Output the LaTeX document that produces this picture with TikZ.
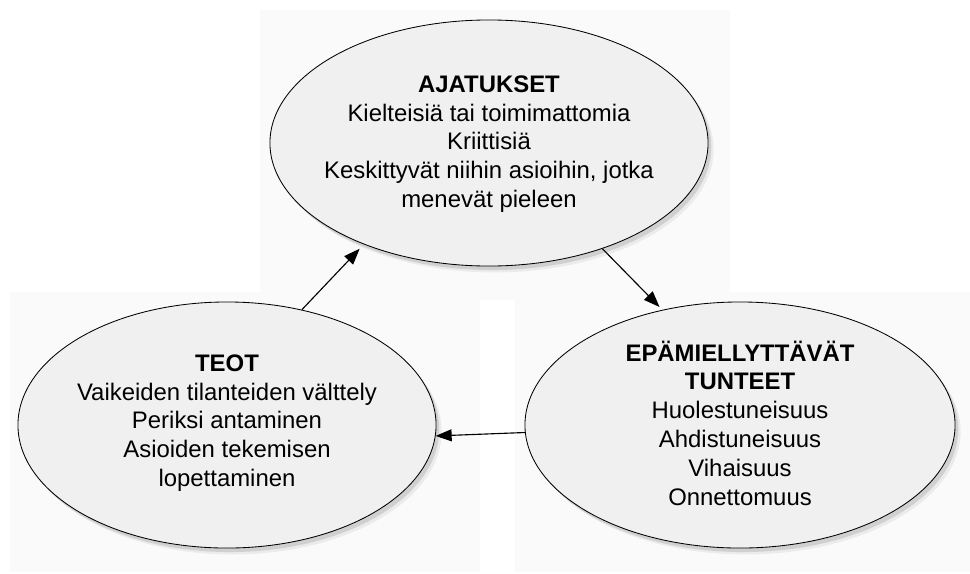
\documentclass[tikz,border=0pt]{standalone}
\usepackage{fontspec}
\setmainfont{Liberation Sans}
\usetikzlibrary{shapes.geometric, shadows, arrows.meta}

\begin{document}
\begin{tikzpicture}[x=0.025cm, y=-0.025cm,
        panel/.style={fill=black!2, draw=none},
        bubble/.style={ellipse, draw=black, line width=0.6pt, fill=black!6, inner sep=0pt,
            minimum height=6.15cm,
            drop shadow={shadow xshift=0.14cm, shadow yshift=-0.16cm, opacity=0.12},
            drop shadow={shadow xshift=0.08cm, shadow yshift=-0.1cm, opacity=0.25}},
        bubbletext/.style={align=center, font=\fontsize{17}{20.5}\selectfont},
        link/.style={-{Triangle[length=4mm, width=3mm]}, line width=0.8pt}]
        \useasboundingbox (0,0) rectangle (970,573);
        \fill[white] (0,0) rectangle (970,573);

        \fill[panel] (260,10) rectangle (730,300);
        \fill[panel] (10,292) rectangle (480,572);
        \fill[panel] (515,292) rectangle (970,572);

        \node[bubble, minimum width=10.95cm] (thoughts) at (489,143) {};
        \node[bubble, minimum width=10.45cm] (deeds) at (227,425) {};
        \node[bubble, minimum width=10.75cm] (feelings) at (740,425) {};

        \node[bubbletext] (thoughts text) at (489,144) {\textbf{AJATUKSET}\\
            Kielteisiä tai toimimattomia\\ Kriittisiä\\
            Keskittyvät niihin asioihin, jotka\\ menevät pieleen};
        \node[bubbletext] (deeds text) at (227,423) {\textbf{TEOT}\\
            Vaikeiden tilanteiden välttely\\ Periksi antaminen\\
            Asioiden tekemisen\\ lopettaminen};
        \node[bubbletext] (feelings text) at (740,423) {\textbf{EPÄMIELLYTTÄVÄT}\\
            \textbf{TUNTEET}\\ Huolestuneisuus\\ Ahdistuneisuus\\ Vihaisuus\\ Onnettomuus};

        \draw[link, shorten >=1.5mm] (deeds.57.6) -- (thoughts.219.7);
        \draw[link, shorten >=1mm] (thoughts.-43.4) -- (feelings.124.1);
        \draw[link] (feelings.182.1) -- (deeds.357.8);
    \end{tikzpicture}
\end{document}
